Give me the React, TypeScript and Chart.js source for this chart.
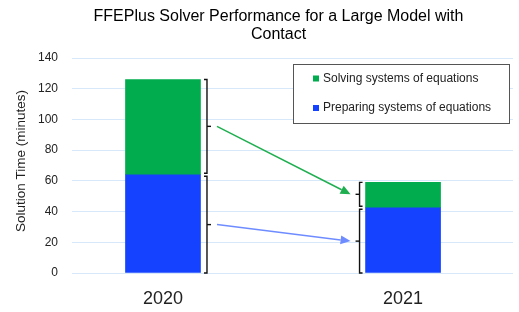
import React, { useEffect, useRef } from 'react';
import { Chart, registerables } from 'chart.js';

Chart.register(...registerables);

const years = ['2020', '2021'];
const yearPositions = [0, 1];
const preparing = [64, 42.5];
const solving = [62, 16.5];
const yMax = 140;
const yStep = 20;
const titleLines = ['FFEPlus Solver Performance for a Large Model with', 'Contact'];
const yAxisTitle = 'Solution Time (minutes)';
const preparingLabel = 'Preparing systems of equations';
const solvingLabel = 'Solving systems of equations';
const preparingColor = '#1442FF';
const solvingColor = '#00AC4E';
const preparingArrow = '#6E8CFF';
const solvingArrow = '#1FAF50';

const FONT = '"Liberation Sans", Arial, Helvetica, sans-serif';
const BAR_W = 75;

const annotPlugin = {
  id: 'annot',
  afterDatasetsDraw(chart: any) {
    const ctx = chart.ctx as CanvasRenderingContext2D;
    const xs = chart.scales.x;
    const ys = chart.scales.y;
    const area = chart.chartArea;
    const half = BAR_W / 2;

    const mids: number[][] = [[], []];
    const bxs: number[] = [];
    ctx.save();
    ctx.strokeStyle = '#111';
    ctx.lineWidth = 1.4;
    years.forEach((_, i) => {
      const cx = xs.getPixelForValue(yearPositions[i]);
      const side = i === 0 ? 1 : -1;
      const bx = i === 0 ? cx + half + 6.5 : cx - half - 6;
      bxs.push(bx);
      const segs = [
        [0, preparing[i]],
        [preparing[i], preparing[i] + solving[i]],
      ];
      segs.forEach(([lo, hi], s) => {
        const yTop = ys.getPixelForValue(hi) + (s === 0 ? 1.5 : 0);
        const yBot = ys.getPixelForValue(lo) - (s === 1 ? 1.5 : 0);
        const mid = (yTop + yBot) / 2;
        mids[s][i] = mid;
        ctx.beginPath();
        ctx.moveTo(bx - side * 3, yTop);
        ctx.lineTo(bx, yTop);
        ctx.lineTo(bx, yBot);
        ctx.lineTo(bx - side * 3, yBot);
        ctx.stroke();
        ctx.beginPath();
        ctx.moveTo(bx, mid);
        ctx.lineTo(bx + side * 4, mid);
        ctx.stroke();
      });
    });
    ctx.restore();

    const arrowCols = [preparingArrow, solvingArrow];
    [0, 1].forEach((s) => {
      const x0 = bxs[0] + 10;
      const y0 = mids[s][0];
      const x1 = bxs[1] - 9;
      const y1 = mids[s][1];
      const ang = Math.atan2(y1 - y0, x1 - x0);
      const hl = 10;
      const hw = 4.5;
      const bxh = x1 - hl * Math.cos(ang);
      const byh = y1 - hl * Math.sin(ang);
      ctx.save();
      ctx.strokeStyle = arrowCols[s];
      ctx.fillStyle = arrowCols[s];
      ctx.lineWidth = 1.5;
      ctx.beginPath();
      ctx.moveTo(x0, y0);
      ctx.lineTo(bxh, byh);
      ctx.stroke();
      ctx.beginPath();
      ctx.moveTo(x1, y1);
      ctx.lineTo(bxh + hw * Math.sin(ang), byh - hw * Math.cos(ang));
      ctx.lineTo(bxh - hw * Math.sin(ang), byh + hw * Math.cos(ang));
      ctx.closePath();
      ctx.fill();
      ctx.restore();
    });

    const lx0 = area.right - 220;
    const ly0 = area.top + 6;
    const lw = 216;
    const lh = 59;
    ctx.save();
    ctx.fillStyle = '#fff';
    ctx.fillRect(lx0, ly0, lw, lh);
    ctx.strokeStyle = '#555';
    ctx.lineWidth = 1;
    ctx.strokeRect(lx0 + 0.5, ly0 + 0.5, lw, lh);
    const items = [
      { label: solvingLabel, color: solvingColor, y: ly0 + 14.5 },
      { label: preparingLabel, color: preparingColor, y: ly0 + 44 },
    ];
    ctx.font = `12px ${FONT}`;
    ctx.textBaseline = 'middle';
    ctx.textAlign = 'left';
    items.forEach((it) => {
      ctx.fillStyle = it.color;
      ctx.fillRect(lx0 + 20, it.y - 3, 6, 6);
      ctx.fillStyle = '#222';
      ctx.fillText(it.label, lx0 + 30, it.y);
    });
    ctx.restore();

    ctx.save();
    ctx.font = `16px ${FONT}`;
    ctx.fillStyle = '#000';
    ctx.textAlign = 'center';
    ctx.textBaseline = 'middle';
    titleLines.forEach((t, k) => {
      ctx.fillText(t, 278.5, 17 + k * 18);
    });
    ctx.restore();

    ctx.save();
    ctx.font = `13.5px ${FONT}`;
    ctx.fillStyle = '#222';
    ctx.textAlign = 'center';
    ctx.textBaseline = 'middle';
    ctx.translate(21, (area.top + area.bottom) / 2 - 4.5);
    ctx.rotate(-Math.PI / 2);
    ctx.fillText(yAxisTitle, 0, 0);
    ctx.restore();
  },
};

export default function App() {
  const ref = useRef<HTMLCanvasElement | null>(null);

  useEffect(() => {
    if (!ref.current) return;
    Chart.defaults.font.family = FONT;
    const chart = new Chart(ref.current, {
      type: 'bar',
      data: {
        datasets: [
          {
            label: preparingLabel,
            data: yearPositions.map((x, i) => ({ x, y: preparing[i] })),
            backgroundColor: preparingColor,
            barThickness: BAR_W,
          },
          {
            label: solvingLabel,
            data: yearPositions.map((x, i) => ({ x, y: solving[i] })),
            backgroundColor: solvingColor,
            barThickness: BAR_W,
          },
        ],
      },
      options: {
        responsive: false,
        animation: false,
        devicePixelRatio: 1,
        layout: { padding: { top: 58, left: 0, right: 6, bottom: 0 } },
        plugins: {
          legend: { display: false },
          title: { display: false },
          tooltip: { enabled: false },
        },
        scales: {
          x: {
            type: 'linear',
            stacked: true,
            offset: false,
            min: -0.379,
            max: 1.458,
            grid: { display: false, drawTicks: false, offset: false },
            border: { display: false },
            afterBuildTicks: (scale: any) => {
              scale.ticks = yearPositions.map((v) => ({ value: v }));
            },
            afterFit: (scale: any) => {
              scale.height = 39;
            },
            ticks: {
              padding: 15,
              color: '#222',
              font: { size: 18 },
              maxRotation: 0,
              autoSkip: false,
              callback: (v: any) => {
                const idx = yearPositions.indexOf(Number(v));
                return idx >= 0 ? years[idx] : '';
              },
            },
          },
          y: {
            stacked: true,
            min: 0,
            max: yMax,
            grid: { color: '#D6E8FA', lineWidth: 1, drawTicks: false },
            border: { display: false },
            afterFit: (scale: any) => {
              scale.width = 72;
            },
            ticks: {
              stepSize: yStep,
              padding: 14,
              color: '#222',
              font: { size: 12 },
            },
          },
        },
      },
      plugins: [annotPlugin],
    });
    return () => chart.destroy();
  }, []);

  return (
    <div style={{ position: 'fixed', left: 0, top: 0, width: 519, height: 312, background: '#fff' }}>
      <canvas ref={ref} width={519} height={312} style={{ width: 519, height: 312 }} />
    </div>
  );
}
